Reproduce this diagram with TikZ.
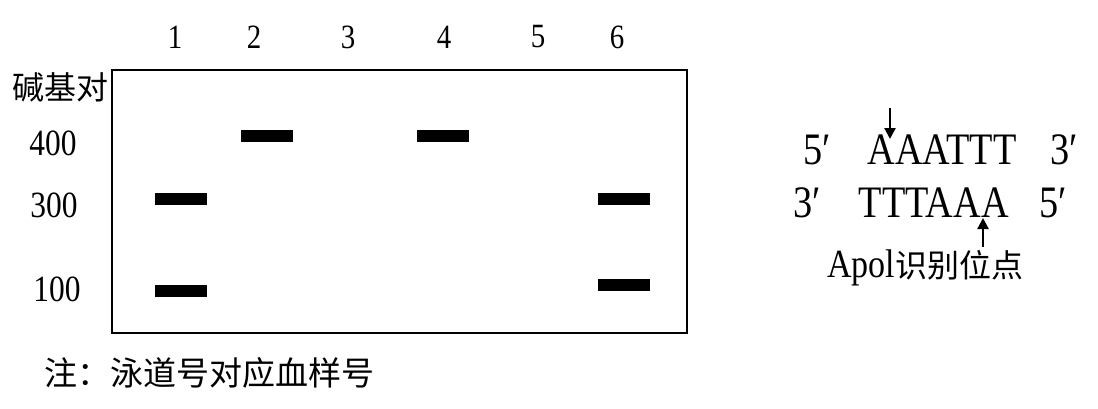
\documentclass[tikz,border=0pt]{standalone}
\usepackage{fontspec}
\usetikzlibrary{arrows.meta}
\newfontfamily\latfont[FakeStretch=0.85]{Liberation Serif}
\newfontfamily\cjkfont{Noto Sans CJK SC}

\tikzset{
  every node/.style={inner sep=0pt},
  lane/.style={font=\latfont\fontsize{34}{36}\selectfont},
  size/.style={font=\latfont\fontsize{37}{40}\selectfont},
  band/.style={fill=black,minimum width=52pt,minimum height=12pt},
  hanzi/.style={font=\cjkfont\fontsize{32}{36}\selectfont},
  strand/.style={font=\latfont\fontsize{45}{48}\selectfont},
  cut/.style={-{Triangle[length=11pt,width=11pt]},line width=2.2pt}
}

\begin{document}
\begin{tikzpicture}[x=1pt,y=-1pt]
  \useasboundingbox (0,0) rectangle (1098,408);

  % gel
  \node [draw,line width=2.5pt,minimum width=575pt,minimum height=263pt] (gel) at (399.5,201.5) {};

  \foreach \n/\x in {1/175,2/254,3/348,4/444,5/538,6/617}
    \node [lane] (lane\n) at (\x,37) {\n};

  \node [hanzi,anchor=east] (bp) at (109,87) {碱基对};
  \node [size] (s400) at (53,143) {400};
  \node [size] (s300) at (54,205) {300};
  \node [size] (s100) at (57,289) {100};

  \foreach \name/\x/\y in {1a/181/199,1b/181/291,2a/267/136,4a/443/136,6a/624/199,6b/624/285}
    \node [band] (band\name) at (\x,\y) {};

  \node [hanzi,anchor=west,font=\cjkfont\fontsize{33}{36}\selectfont] (note) at (44,373) {注：泳道号对应血样号};

  % restriction site
  \node [strand,anchor=west] (top) at (803,150) {5′\hspace{37pt}AAATTT\hspace{34pt}3′};
  \node [strand,anchor=west] (bottom) at (793,203) {3′\hspace{38pt}TTTAAA\hspace{31pt}5′};
  \node [hanzi,anchor=west] (site) at (827,268) {\latfont\fontsize{40}{44}\selectfont Apol\cjkfont\fontsize{32}{36}\selectfont 识别位点};

  \coordinate (cut1) at (890,108);
  \coordinate (cut1end) at (890,139);
  \coordinate (cut2) at (983,247);
  \coordinate (cut2end) at (983,218);
  \draw [cut] (cut1) -- (cut1end);
  \draw [cut] (cut2) -- (cut2end);
\end{tikzpicture}
\end{document}
